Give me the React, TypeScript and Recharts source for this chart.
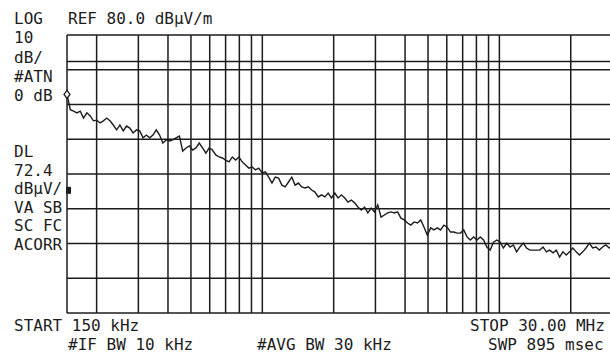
import React from "react";
import {
  ComposedChart,
  Line,
  XAxis,
  YAxis,
  ReferenceLine,
  ReferenceDot,
} from "recharts";

// trace level per sweep point, dBµV/m
const TRACE_DBUV = [
  62.9, 58.5, 58.1, 57.6, 58.1, 56.1, 57.6, 56.7, 55.3, 55.5,
  54.7, 55.3, 56.1, 55.3, 54.1, 52.7, 54.1, 52.4, 53.8, 53.2,
  51.8, 52.7, 52.4, 50.4, 51.2, 50.4, 51.2, 52.7, 51.2, 48.9,
  49.8, 49.5, 49.8, 50.4, 50.9, 46.6, 47.5, 48.1, 46.9, 47.5,
  48.9, 47.5, 46.0, 47.5, 46.9, 45.5, 44.9, 44.6, 44.0, 43.5,
  44.9, 44.0, 44.9, 43.5, 42.6, 41.7, 42.0, 41.2, 41.7, 40.3,
  40.6, 39.1, 37.4, 39.1, 38.8, 36.8, 36.3, 37.7, 39.1, 36.8,
  37.4, 36.3, 36.0, 36.3, 35.4, 34.8, 33.4, 34.0, 33.4, 34.5,
  33.1, 34.5, 33.1, 34.0, 33.1, 31.9, 32.5, 31.7, 30.5, 29.6,
  30.5, 28.8, 30.2, 29.1, 31.1, 27.6, 28.2, 28.8, 29.1, 28.8,
  29.1, 27.3, 26.8, 25.9, 25.3, 26.2, 25.9, 26.8, 24.7, 22.4,
  24.5, 23.9, 24.5, 23.9, 25.3, 24.7, 23.3, 23.3, 23.0, 23.0,
  23.9, 21.9, 21.0, 21.9, 21.0, 21.9, 21.0, 19.0, 18.1, 20.4,
  21.0, 20.4, 18.7, 20.1, 19.0, 19.6, 17.6, 19.0, 20.1, 18.7,
  18.1, 18.1, 18.1, 18.1, 19.0, 17.6, 18.1, 17.3, 18.1, 16.1,
  17.6, 16.7, 17.6, 18.7, 17.6, 16.7, 17.6, 18.7, 20.1, 18.7,
  19.0, 18.1, 19.0, 19.6, 18.7, 19.0,
];

const START_MHZ = 0.15;
const STOP_MHZ = 30;
const REF_LEVEL = 80;
const LEVEL_TICKS = [0, 10, 20, 30, 40, 50, 60, 70, 80];
const DISPLAY_LINE = 72.4;
const THRESHOLD_MARK = 35.3;
const FREQ_GRID_MHZ = [
  0.2, 0.3, 0.4, 0.5, 0.6, 0.7, 0.8, 0.9, 1,
  2, 3, 4, 5, 6, 7, 8, 9, 10, 20,
];

const HEADER = "REF 80.0 dBµV/m";
const SETUP_LINES = ["LOG", "10", "dB/", "#ATN", "0 dB"];
const DL_LINES = ["DL", "72.4", "dBµV/", "VA SB", "SC FC", "ACORR"];
const START_LABEL = "START 150 kHz";
const STOP_LABEL = "STOP 30.00 MHz";
const RBW_LABEL = "#IF BW 10 kHz";
const VBW_LABEL = "#AVG BW 30 kHz";
const SWEEP_LABEL = "SWP 895 msec";

const data = TRACE_DBUV.map((level, i) => ({ i, level }));
const LAST = TRACE_DBUV.length - 1;

// sweep is log in frequency: frequency -> sweep bin
const bin = (f: number) =>
  (LAST * Math.log(f / START_MHZ)) / Math.log(STOP_MHZ / START_MHZ);

const INK = "#1c1c1c";
const FONT = "'DejaVu Sans Mono', 'Liberation Mono', monospace";

const Diamond = (props: any) => {
  const { cx, cy } = props;
  return (
    <path
      d={`M${cx},${cy - 4} L${cx + 3},${cy} L${cx},${cy + 4} L${cx - 3},${cy} Z`}
      fill="#fff"
      stroke={INK}
      strokeWidth={1.3}
    />
  );
};

const Square = (props: any) => {
  const { cx, cy } = props;
  return <rect x={cx - 1} y={cy - 3.5} width={5} height={7} fill={INK} />;
};

export default function App() {
  const txt = { fontFamily: FONT, fontSize: 16, fill: INK } as any;
  return (
    <div
      style={{
        position: "fixed",
        left: 0,
        top: 0,
        width: 610,
        height: 354,
        overflow: "hidden",
        background: "#fff",
      }}
    >
      <ComposedChart
        width={614}
        height={354}
        data={data}
        margin={{ top: 35, right: 1.5, bottom: 41, left: 67 }}
      >
        <XAxis type="number" dataKey="i" domain={[0, LAST]} hide />
        <YAxis type="number" domain={[0, REF_LEVEL]} ticks={LEVEL_TICKS} hide />

        {LEVEL_TICKS.map((v) => (
          <ReferenceLine key={`h-${v}`} y={v} stroke={INK} strokeWidth={1.5} />
        ))}
        <ReferenceLine y={DISPLAY_LINE} stroke={INK} strokeWidth={1.5} />
        {[START_MHZ, ...FREQ_GRID_MHZ, STOP_MHZ].map((f) => (
          <ReferenceLine
            key={`v-${f}`}
            x={bin(f)}
            stroke={INK}
            strokeWidth={1.5}
          />
        ))}

        <Line
          dataKey="level"
          type="linear"
          stroke={INK}
          strokeWidth={1.4}
          dot={false}
          isAnimationActive={false}
        />
        <ReferenceDot x={0} y={TRACE_DBUV[0]} shape={<Diamond />} />
        <ReferenceDot x={0} y={THRESHOLD_MARK} shape={<Square />} />
      </ComposedChart>

      <svg
        width={610}
        height={354}
        style={{ position: "absolute", left: 0, top: 0, pointerEvents: "none" }}
      >
        <text x={68} y={24} {...txt}>{HEADER}</text>
        {SETUP_LINES.map((s, k) => (
          <text key={s} x={14} y={24 + k * 19.3} {...txt}>{s}</text>
        ))}
        {DL_LINES.map((s, k) => (
          <text key={s} x={14} y={157 + k * 18.6} {...txt}>{s}</text>
        ))}
        <text x={14} y={331} {...txt}>{START_LABEL}</text>
        <text x={470} y={331} {...txt}>{STOP_LABEL}</text>
        <text x={68} y={350} {...txt}>{RBW_LABEL}</text>
        <text x={257} y={350} {...txt}>{VBW_LABEL}</text>
        <text x={488} y={350} {...txt}>{SWEEP_LABEL}</text>
      </svg>
    </div>
  );
}
